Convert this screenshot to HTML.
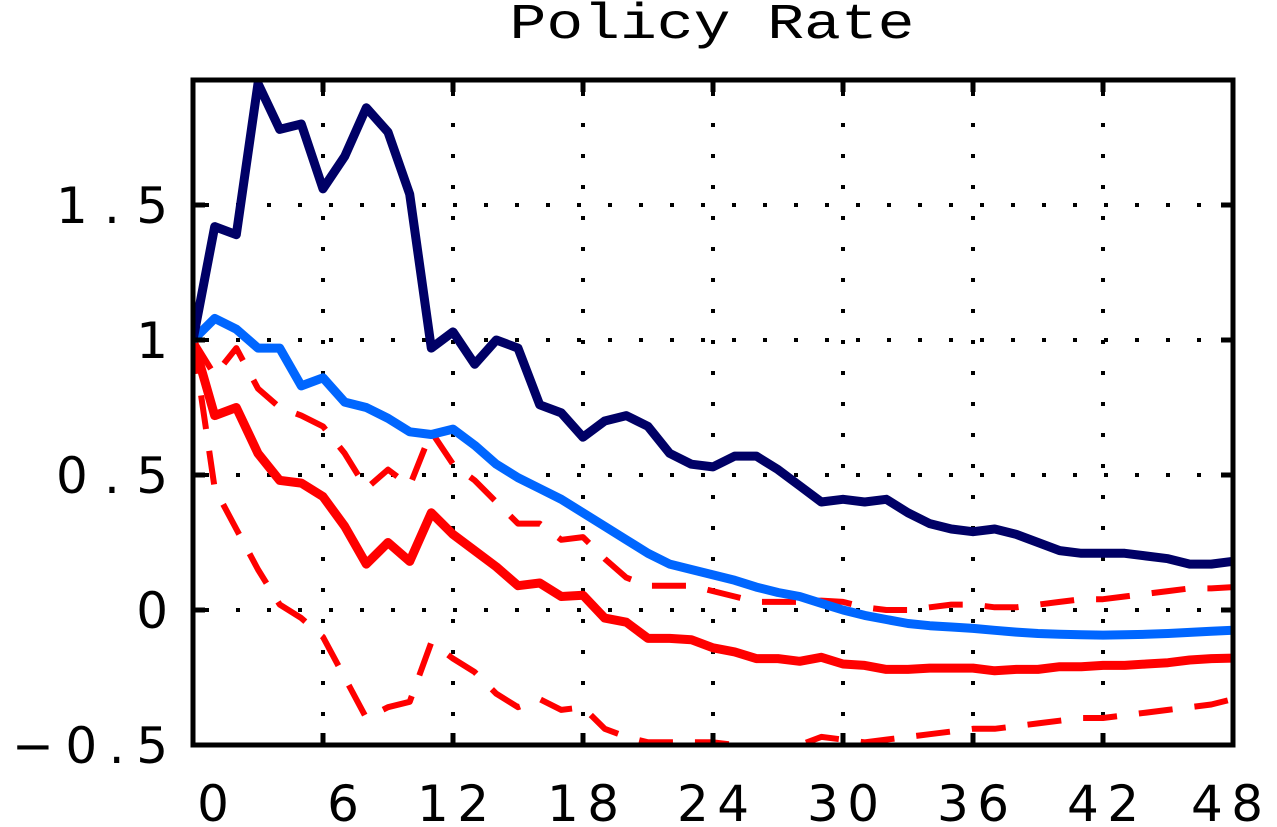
<!DOCTYPE html>
<html><head><meta charset="utf-8"><style>
html,body{margin:0;padding:0;background:#fff;}
svg{display:block;}
</style></head><body>
<svg id="chart" width="1277" height="827" viewBox="0 0 1277 827" xmlns="http://www.w3.org/2000/svg">
<text x="712" y="38" text-anchor="middle" font-family="Liberation Mono, monospace" font-size="50" textLength="405" lengthAdjust="spacingAndGlyphs">Policy Rate</text>
<defs><clipPath id="plotclip"><rect x="193" y="80" width="1040" height="665"/></clipPath></defs>
<g id="grid"></g>
<g id="series" clip-path="url(#plotclip)"></g>
<g id="axes"></g>
</svg>
<script>
const xTicks = [0, 6, 12, 18, 24, 30, 36, 42, 48];
const xTickLabels = ["0", "6", "12", "18", "24", "30", "36", "42", "48"];
const yTicks = [-0.5, 0, 0.5, 1, 1.5];
const yTickLabels = ["\u22120.5", "0", "0.5", "1", "1.5"];
const darkSeries = [1.0,1.42,1.39,1.95,1.78,1.80,1.56,1.68,1.86,1.77,1.54,0.97,1.03,0.91,1.0,0.97,0.76,0.73,0.64,0.70,0.72,0.68,0.58,0.54,0.53,0.57,0.57,0.52,0.46,0.40,0.41,0.40,0.41,0.36,0.32,0.30,0.29,0.30,0.28,0.25,0.22,0.21,0.21,0.21,0.20,0.19,0.17,0.17,0.18];
const blueSeries = [1.0,1.08,1.04,0.97,0.97,0.83,0.86,0.77,0.75,0.71,0.66,0.65,0.67,0.61,0.54,0.49,0.45,0.41,0.36,0.31,0.26,0.21,0.17,0.15,0.13,0.11,0.085,0.065,0.05,0.025,0.0,-0.02,-0.035,-0.05,-0.058,-0.063,-0.068,-0.075,-0.082,-0.087,-0.09,-0.092,-0.093,-0.092,-0.09,-0.087,-0.083,-0.079,-0.075];
const redSeries = [1.0,0.72,0.75,0.58,0.48,0.47,0.42,0.31,0.17,0.25,0.18,0.36,0.28,0.22,0.16,0.09,0.10,0.05,0.055,-0.03,-0.045,-0.105,-0.105,-0.11,-0.14,-0.155,-0.18,-0.18,-0.19,-0.175,-0.2,-0.205,-0.22,-0.22,-0.215,-0.215,-0.215,-0.225,-0.22,-0.22,-0.21,-0.21,-0.205,-0.205,-0.2,-0.195,-0.185,-0.18,-0.178];
const upperBand = [1.0,0.87,0.97,0.82,0.75,0.72,0.68,0.58,0.45,0.52,0.46,0.66,0.54,0.48,0.40,0.32,0.32,0.26,0.27,0.19,0.12,0.09,0.09,0.09,0.07,0.05,0.03,0.03,0.03,0.035,0.03,0.01,0.0,0.0,0.01,0.02,0.02,0.01,0.01,0.02,0.03,0.04,0.04,0.05,0.06,0.07,0.08,0.08,0.085];
const lowerBand = [1.0,0.45,0.3,0.15,0.02,-0.03,-0.1,-0.25,-0.40,-0.36,-0.34,-0.12,-0.18,-0.23,-0.31,-0.36,-0.33,-0.37,-0.36,-0.44,-0.47,-0.49,-0.49,-0.49,-0.49,-0.5,-0.51,-0.51,-0.50,-0.47,-0.48,-0.49,-0.48,-0.47,-0.46,-0.45,-0.44,-0.44,-0.43,-0.42,-0.41,-0.40,-0.40,-0.39,-0.38,-0.37,-0.36,-0.35,-0.33];

const NS = "http://www.w3.org/2000/svg";
const L = 193, R = 1233, T = 80, B = 745;
const xMin = 0, xMax = 48, yMin = -0.5, yMax = 1.963;
function xs(v){ return L + (v - xMin) / (xMax - xMin) * (R - L); }
function ys(v){ return B - (v - yMin) / (yMax - yMin) * (B - T); }
function mk(tag, attrs, parent){
  const e = document.createElementNS(NS, tag);
  for (const k in attrs) e.setAttribute(k, attrs[k]);
  parent.appendChild(e);
  return e;
}
const grid = document.getElementById('grid');
const axes = document.getElementById('axes');
const series = document.getElementById('series');

xTicks.forEach((t) => {
  if (t === xMin || t === xMax) return;
  const g = mk('line', {x1: xs(t), x2: xs(t), y1: T + 12, y2: B, stroke: '#000', 'stroke-width': 4, 'stroke-dasharray': '4 27'}, grid);
  
  
});
yTicks.forEach((t) => {
  if (t === yMin) return;
  const g = mk('line', {x1: L + 12, x2: R, y1: ys(t), y2: ys(t), stroke: '#000', 'stroke-width': 4, 'stroke-dasharray': '4 27'}, grid);
  
  
});

function path(arr){ return arr.map((v, i) => (i ? 'L' : 'M') + xs(i).toFixed(1) + ' ' + ys(v).toFixed(1)).join(' '); }
const specs = [
  [upperBand, '#ff0000', 6, '34 22', 'upper-band-line'],
  [lowerBand, '#ff0000', 6, '34 22', 'lower-band-line'],
  [redSeries, '#ff0000', 9, '', 'red-median-line'],
  [blueSeries, '#0066ff', 9, '', 'blue-line'],
  [darkSeries, '#000066', 9, '', 'navy-line']
];
specs.forEach(s => {
  const attrs = {d: path(s[0]), fill: 'none', stroke: s[1], 'stroke-width': s[2], 'stroke-linejoin': 'round'};
  if (s[3]) attrs['stroke-dasharray'] = s[3];
  const p = mk('path', attrs, series);
  
  
});

const box = mk('rect', {x: L, y: T, width: R - L, height: B - T, fill: 'none', stroke: '#000', 'stroke-width': 5}, axes);



const xLabelPos = [213, 343, 453, 583, 713, 843, 973, 1103, 1227];
xTicks.forEach((t, i) => {
  const tk = mk('line', {x1: xs(t), x2: xs(t), y1: B, y2: B - 12, stroke: '#000', 'stroke-width': 5}, axes);
  
  
  const tk2 = mk('line', {x1: xs(t), x2: xs(t), y1: T, y2: T + 12, stroke: '#000', 'stroke-width': 5}, axes);
  
  
  const lbl = xTickLabels[i];
  const attrs = {x: xLabelPos[i], y: 821, 'text-anchor': 'middle', 'font-family': 'DejaVu Sans, sans-serif', 'font-size': 50};
  if (lbl.length > 1) { attrs.textLength = 72; attrs.lengthAdjust = 'spacing'; }
  const tx = mk('text', attrs, axes);
  tx.textContent = lbl;
  
  
});
yTicks.forEach((t, i) => {
  const tk = mk('line', {x1: L, x2: L + 12, y1: ys(t), y2: ys(t), stroke: '#000', 'stroke-width': 5}, axes);
  
  
  const tk2 = mk('line', {x1: R, x2: R - 12, y1: ys(t), y2: ys(t), stroke: '#000', 'stroke-width': 5}, axes);
  
  
  const lbl = yTickLabels[i];
  const attrs = {x: 168, y: ys(t) + 18, 'text-anchor': 'end', 'font-family': 'DejaVu Sans, sans-serif', 'font-size': 50};
  if (lbl.length === 3) { attrs.textLength = 112; attrs.lengthAdjust = 'spacing'; }
  if (lbl.length === 4) { attrs.textLength = 156; attrs.lengthAdjust = 'spacing'; }
  const tx = mk('text', attrs, axes);
  tx.textContent = lbl;
  
  
});
</script>
</body></html>
